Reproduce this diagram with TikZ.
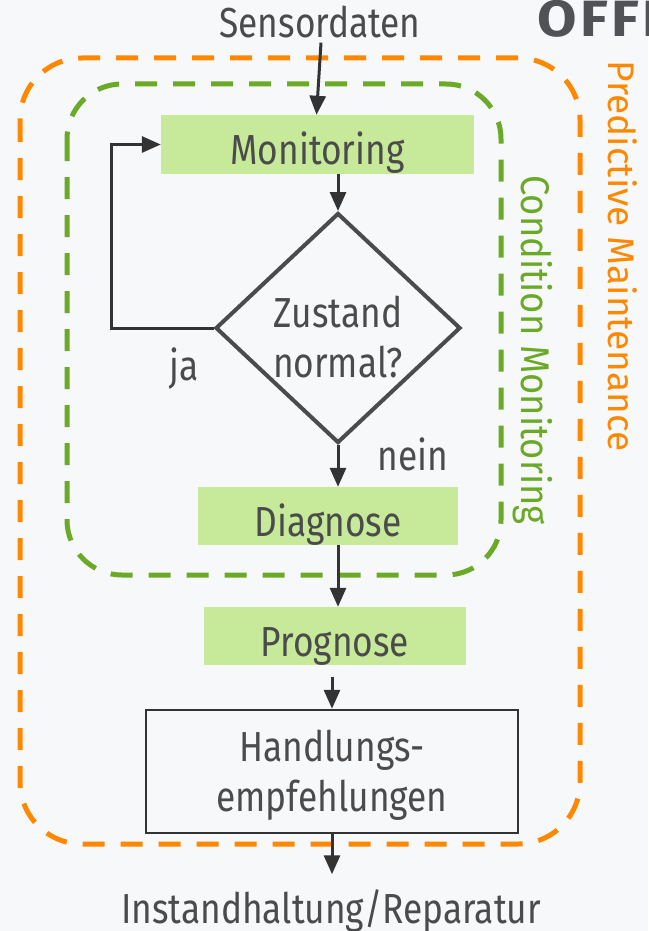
\documentclass[tikz,border=0pt]{standalone}
\usepackage{fontspec}
\setmainfont{Fira Sans}[FakeStretch=0.84]
\newfontfamily\sidefont{Fira Sans}
\newfontfamily\logofont{Fira Sans}[FakeStretch=1.12, LetterSpace=7]
\usetikzlibrary{shapes,arrows.meta,positioning,calc}

\definecolor{bgcol}{RGB}{247,248,250}
\definecolor{txtcol}{RGB}{75,75,75}
\definecolor{logocol}{RGB}{80,82,86}
\definecolor{cmgreen}{RGB}{106,170,38}
\definecolor{pmorange}{RGB}{255,136,0}
\definecolor{boxgreen}{RGB}{199,234,154}

\begin{document}
\begin{tikzpicture}[
    x=1pt, y=-1pt,
    step box/.style={rectangle, fill=boxgreen, text=txtcol, inner sep=0pt, text height=40pt, text depth=0pt, font=\fontsize{42}{50}\selectfont},
    edge/.style={-{Triangle[width=16pt,length=19pt]}, line width=3pt, draw=black!80},
    label/.style={text=txtcol, inner sep=0pt, font=\fontsize{42}{50}\selectfont},
    frame/.style={dashed, line width=5pt, dash pattern=on 22pt off 16pt, rounded corners=62pt},
]

\useasboundingbox[fill=bgcol] (0,0) rectangle (648,931);

% Frames
\draw[frame, pmorange] (20,58) rectangle (580,844);
\draw[frame, cmgreen, rounded corners=55pt] (67,84) rectangle (501,575);
\node[anchor=base, rotate=-90, inner sep=0pt, text=pmorange, font=\sidefont\fontsize{37}{44}\selectfont] (pm) at (608,256) {Predictive Maintenance};
\node[anchor=base, rotate=-90, inner sep=0pt, text=cmgreen, font=\fontsize{40}{48}\sidefont\addfontfeature{FakeStretch=0.91}] (cm) at (521,350) {Condition Monitoring};

% Logo
\node[anchor=base west, inner sep=0pt, text=logocol, font=\logofont\bfseries\fontsize{51}{60}\selectfont] (logo) at (537,37) {OFFI};

% Steps
\node[label, anchor=base] (sens) at (320,38) {Sensordaten};
\node[step box, minimum width=313pt, minimum height=59pt] (mon) at (317.5,144.5) {Monitoring};
\node[draw=txtcol, line width=4pt, diamond, minimum width=245pt, minimum height=230pt, inner sep=0pt] (dia) at (338,328) {};
\node[label, align=center] (diatxt) at (338,337) {Zustand\\normal?};
\node[step box, minimum width=260pt, minimum height=58pt] (diag) at (328,516) {Diagnose};
\node[step box, minimum width=262pt, minimum height=58pt] (prog) at (335,636) {Prognose};
\node[draw=black!80, line width=2.5pt, fill=bgcol, minimum width=372pt, minimum height=123pt] (hand) at (332,771.5) {};
\node[label, align=center] (handtxt) at (332,775.5) {Handlungs-\\empfehlungen};
\node[label, anchor=base] (out) at (331,923) {Instandhaltung/Reparatur};

% Labels
\node[label, anchor=base] (ja) at (184,380) {ja};
\node[label, anchor=base] (nein) at (413,470) {nein};

% Arrows
\draw[edge] ($(sens.south)+(1,4)$) -- ($(mon.north)+(-1,0)$);
\draw[edge] (mon.south -| dia.north) -- (dia.north);
\draw[edge] (dia.west) -- ++(-102,0) |- (mon.west);
\draw[edge] (dia.south) -- (dia.south |- diag.north);
\draw[edge] (dia.south |- diag.south) -- (dia.south |- prog.north);
\draw[edge] ($(hand.north)+(0,-32)$) -- (hand.north);
\draw[edge] (hand.south) -- ++(0,40);

\end{tikzpicture}
\end{document}
